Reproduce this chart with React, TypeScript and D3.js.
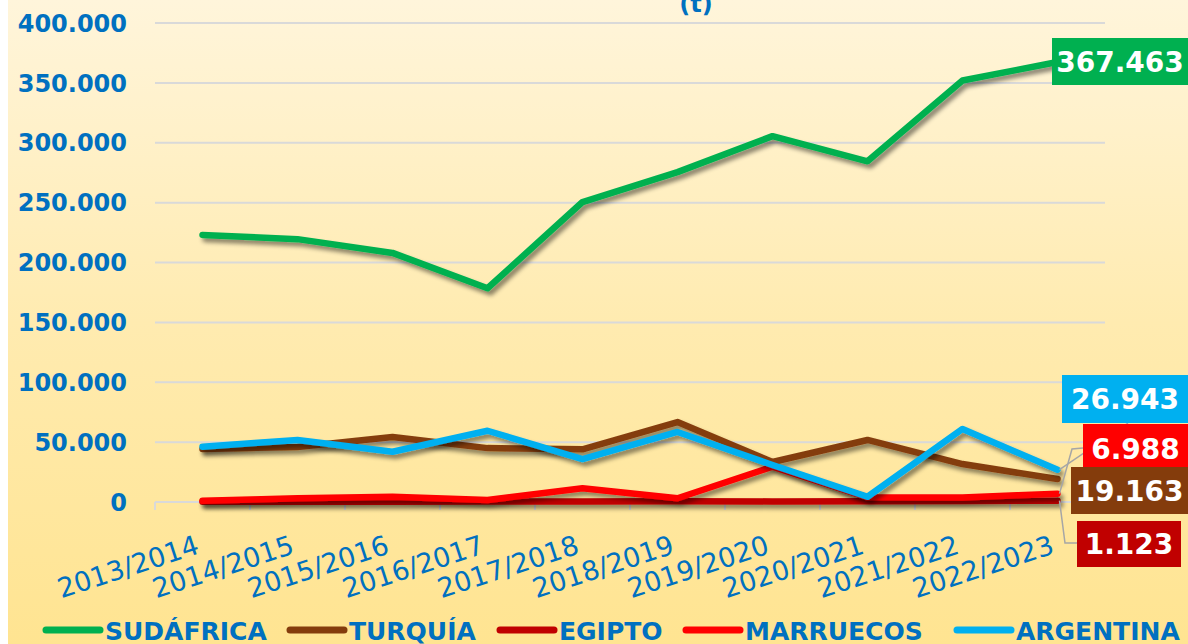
import React from "react";
import * as d3 from "d3";

const categories = [
  "2013/2014", "2014/2015", "2015/2016", "2016/2017", "2017/2018",
  "2018/2019", "2019/2020", "2020/2021", "2021/2022", "2022/2023",
];
const sudafrica = [223000, 219500, 208000, 178500, 250500, 275500, 305500, 284500, 352000, 367463];
const turquia = [44300, 46000, 54300, 45000, 44000, 66800, 33400, 51800, 31700, 19163];
const egipto = [200, 300, 300, 400, 500, 600, 500, 700, 900, 1123];
const marruecos = [1000, 3100, 4400, 1700, 11400, 3100, 29500, 3900, 3800, 6988];
const argentina = [46200, 51800, 42000, 59500, 35900, 58500, 30900, 4400, 61000, 26943];
const yTicks = [0, 50000, 100000, 150000, 200000, 250000, 300000, 350000, 400000];

const seriesNames = ["SUDÁFRICA", "TURQUÍA", "EGIPTO", "MARRUECOS", "ARGENTINA"];
const seriesValues = [sudafrica, turquia, egipto, marruecos, argentina];
const seriesColors = ["#00B050", "#843C0C", "#C00000", "#FF0000", "#00B0F0"];

const locale = d3.formatLocale({ decimal: ",", thousands: ".", grouping: [3], currency: ["", ""] });
const fmt = locale.format(",d");

const FONT = "'DejaVu Sans', Verdana, sans-serif";
const BLUE = "#0070C0";

export default function App() {
  const W = 1188, H = 644;
  const x = d3.scaleBand<string>().domain(categories).range([155, 1105]);
  const y = d3.scaleLinear().domain([0, 400000]).range([502, 23]);
  const cx = (c: string) => (x(c) as number) + x.bandwidth() / 2;
  const line = d3.line<number>().x((_, i) => cx(categories[i])).y((v) => y(v));

  const lastIdx = categories.length - 1;
  const lastX = cx(categories[lastIdx]);
  const labelBoxes = [
    { s: 0, left: 1052, top: 38, bottom: 85 },
    { s: 4, left: 1062, top: 375, bottom: 423 },
    { s: 3, left: 1083, top: 424, bottom: 473 },
    { s: 1, left: 1071, top: 467, bottom: 514 },
    { s: 2, left: 1077, top: 521, bottom: 567 },
  ];
  const legendStarts = [46, 290, 500, 686, 957];

  return (
    <div style={{ position: "absolute", left: 0, top: 0, width: W, height: H, background: "#fff" }}>
      <svg width={W} height={H} style={{ display: "block" }}>
        <defs>
          <linearGradient id="bg" x1="0" y1="0" x2="0" y2="1">
            <stop offset="0" stopColor="#FFF5DB" />
            <stop offset="0.5" stopColor="#FFEBB0" />
            <stop offset="1" stopColor="#FFE491" />
          </linearGradient>
          <filter id="shadow" filterUnits="userSpaceOnUse" x={0} y={0} width={W} height={H}>
            <feDropShadow dx="3" dy="4" stdDeviation="2.2" floodColor="#000" floodOpacity="0.45" />
          </filter>
        </defs>
        <rect x={8} y={0} width={W - 8} height={H} fill="url(#bg)" />

        <text x={696} y={12} textAnchor="middle" fill={BLUE} fontFamily={FONT} fontWeight="bold" fontSize={24}>
          (t)
        </text>

        {yTicks.map((t) => (
          <line key={t} x1={155} x2={1105} y1={y(t)} y2={y(t)} stroke="#D9D9D9" strokeWidth={2} />
        ))}
        {categories.map((c) => (
          <line key={c} x1={x(c) as number} x2={x(c) as number} y1={y(0)} y2={y(0) + 8} stroke="#D9D9D9" strokeWidth={2} />
        ))}
        <line x1={1105} x2={1105} y1={y(0)} y2={y(0) + 8} stroke="#D9D9D9" strokeWidth={2} />

        {yTicks.map((t) => (
          <text key={t} x={127} y={y(t)} dy="0.36em" textAnchor="end" fill={BLUE} fontFamily={FONT} fontWeight="bold" fontSize={24}>
            {fmt(t)}
          </text>
        ))}

        {categories.map((c) => (
          <text
            key={c}
            transform={`translate(${cx(c) - 2},${553}) rotate(-18)`}
            textAnchor="end"
            fill={BLUE}
            fontFamily={FONT}
            fontSize={27}
          >
            {c}
          </text>
        ))}

        {seriesValues.map((vals, i) => (
          <path
            key={seriesNames[i]}
            d={line(vals) as string}
            fill="none"
            stroke={seriesColors[i]}
            strokeWidth={6.5}
            strokeLinejoin="round"
            strokeLinecap="round"
            filter="url(#shadow)"
          />
        ))}

        <polyline points={`1128,423 ${lastX + 2},${y(argentina[lastIdx])}`} fill="none" stroke="#A6A6A6" strokeWidth={1.5} />
        <polyline points={`1083,448 1072,449 ${lastX + 2},${y(marruecos[lastIdx])}`} fill="none" stroke="#A6A6A6" strokeWidth={1.5} />
        <polyline points={`1077,543 1065,543 ${lastX + 2},${y(egipto[lastIdx])}`} fill="none" stroke="#A6A6A6" strokeWidth={1.5} />

        {labelBoxes.map((b) => {
          const v = seriesValues[b.s][lastIdx];
          const right = b.s === 2 ? 1181 : 1188;
          return (
            <g key={b.s}>
              <rect x={b.left} y={b.top} width={right - b.left} height={b.bottom - b.top} fill={seriesColors[b.s]} />
              <text
                x={(b.left + right) / 2}
                y={(b.top + b.bottom) / 2}
                dy="0.36em"
                textAnchor="middle"
                fill="#fff"
                fontFamily={FONT}
                fontWeight="bold"
                fontSize={28}
              >
                {fmt(v)}
              </text>
            </g>
          );
        })}

        {seriesNames.map((n, i) => (
          <g key={n}>
            <line x1={legendStarts[i]} x2={legendStarts[i] + 54} y1={630} y2={630} stroke={seriesColors[i]} strokeWidth={7} strokeLinecap="round" />
            <text x={legendStarts[i] + 59} y={640} fill={BLUE} fontFamily={FONT} fontWeight="bold" fontSize={25}>
              {n}
            </text>
          </g>
        ))}
      </svg>
    </div>
  );
}
